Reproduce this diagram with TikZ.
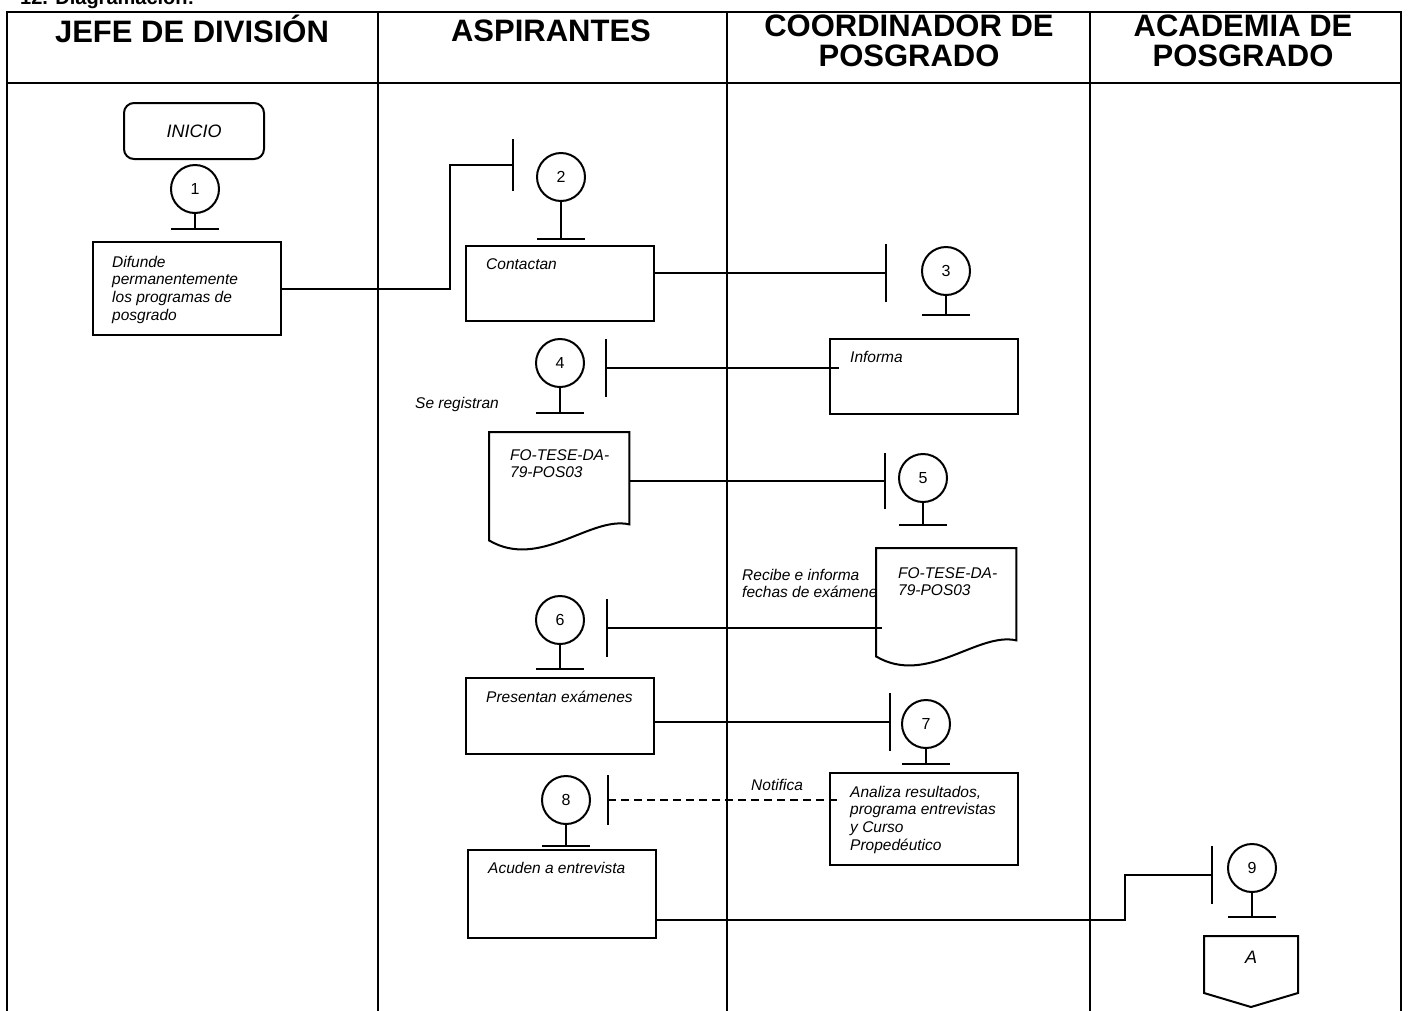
\documentclass[tikz,border=0pt]{standalone}
\usepackage{fontspec}
\setmainfont{Liberation Sans}
\usetikzlibrary{positioning}

\begin{document}
\begin{tikzpicture}[x=1pt, y=-1pt,
		tabla/.style={line width=2.3pt},
		linea/.style={line width=2pt},
		caja/.style={draw, line width=2pt, anchor=north west, inner sep=0pt, minimum width=188pt},
		hoja/.style={anchor=north west, inner sep=0pt, minimum width=140pt, minimum height=92pt},
		paso/.style={draw, circle, line width=2pt, minimum size=48pt, inner sep=0pt, font=\fontsize{16}{18}\selectfont},
		txt/.style={inner sep=0pt, align=left, font=\fontsize{15.5}{17.7}\selectfont\itshape},
		cabeza/.style={inner sep=0pt, anchor=base, font=\fontsize{31}{30}\selectfont\bfseries},
	]
	\newcommand\hojadoc[1]{%
		\draw[linea, fill=white] (#1.north west) -- (#1.north east) -- (#1.south east)
			.. controls +(-39,-9) and +(51,30) .. ([yshift=-16pt]#1.south west) -- cycle;}
	\useasboundingbox (0,0) rectangle (1408,1010);
	% title and lanes
	\node[anchor=base west, inner sep=0pt, font=\fontsize{20}{22}\selectfont\bfseries] (titulo) at (20,4) {12. Diagramación:};
	\draw[tabla] (7,1020) -- (7,12) -- (1401,12) -- (1401,1020);
	\draw[tabla] (7,83) -- (1401,83);
	\foreach \x in {378,727,1090}
		\draw[tabla] (\x,12) -- (\x,1020);
	\node[cabeza] (hjefe) at (192,42) {JEFE DE DIVISIÓN};
	\node[cabeza] (hasp) at (551,41) {ASPIRANTES};
	\node[cabeza] (hcoord) at (909,36.5) {COORDINADOR DE};
	\node[cabeza] (hcoordb) at (909,66.5) {POSGRADO};
	\node[cabeza] (hacad) at (1243,36.5) {ACADEMIA DE};
	\node[cabeza] (hacadb) at (1243,66.5) {POSGRADO};

	% start
	\node[draw, line width=2pt, rounded corners=10pt, minimum width=140pt, minimum height=56pt,
		font=\fontsize{18}{20}\selectfont\itshape] (inicio) at (194,131) {INICIO};

	% activity boxes
	\node[caja, minimum height=93pt] (difunde) at (92,241) {};
	\node[caja, minimum height=75pt] (contactan) at (465,245) {};
	\node[caja, minimum height=75pt] (informa) at (829,338) {};
	\node[caja, minimum height=76pt] (presentan) at (465,677) {};
	\node[caja, minimum height=92pt] (analiza) at (829,772) {};
	\node[caja, minimum height=88pt] (acuden) at (467,849) {};
	\node[hoja] (fo1) at (489,432) {};
	\node[hoja] (fo2) at (876,548) {};

	% box texts
	\node[txt, anchor=north west] (tdifunde) at (112,254.6) {\strut Difunde\\permanentemente\\los programas de\\posgrado};
	\node[txt, anchor=base west] (tcontactan) at (486,269) {Contactan};
	\node[txt, anchor=base west] (tinforma) at (850,362) {Informa};
	\node[txt, anchor=base west] (tregistran) at (415,408) {Se registran};
	\hojadoc{fo1}
	\node[txt, anchor=north west] (tfo1) at (510,447.6) {\strut FO-TESE-DA-\\79-POS03};
	\node[txt, anchor=north west] (trecibe) at (742,567.6) {\strut Recibe e informa\\fechas de exámenes};
	\hojadoc{fo2}
	\node[txt, anchor=north west] (tfo2) at (898,565.6) {\strut FO-TESE-DA-\\79-POS03};
	\node[txt, anchor=base west] (tpresentan) at (486,702) {Presentan exámenes};
	\node[txt, anchor=base west] (tnotifica) at (751,790) {Notifica};
	\node[txt, anchor=north west] (tanaliza) at (850,784.6) {\strut Analiza resultados,\\programa entrevistas\\y Curso\\Propedéutico};
	\node[txt, anchor=base west] (tacuden) at (488,873) {Acuden a entrevista};

	% steps
	\node[paso] (p1) at (195,189) {1};
	\node[paso] (p2) at (561,177) {2};
	\node[paso] (p3) at (946,271) {3};
	\node[paso] (p4) at (560,363) {4};
	\node[paso] (p5) at (923,478) {5};
	\node[paso] (p6) at (560,620) {6};
	\node[paso] (p7) at (926,724) {7};
	\node[paso] (p8) at (566,800) {8};
	\node[paso] (p9) at (1252,868) {9};
	\coordinate[below=15pt of p1] (f1);
	\coordinate[below=37pt of p2] (f2);
	\coordinate[below=19pt of p3] (f3);
	\coordinate[below=25pt of p4] (f4);
	\coordinate[below=22pt of p5] (f5);
	\coordinate[below=24pt of p6] (f6);
	\coordinate[below=15pt of p7] (f7);
	\coordinate[below=21pt of p8] (f8);
	\coordinate[below=24pt of p9] (f9);
	\foreach \i in {1,...,9}
		\draw[linea] (p\i) -- (f\i) ([xshift=-24pt]f\i) -- ([xshift=24pt]f\i);

	% ticks in front of the steps
	\coordinate (k1) at (450,165);
	\coordinate (t2) at (513,165);
	\coordinate (t3) at (886,273);
	\coordinate (t4) at (606,368);
	\coordinate (t5) at (885,481);
	\coordinate (t6) at (607,628);
	\coordinate (t7) at (890,722);
	\coordinate (t8) at (608,800);
	\coordinate (k8) at (1125,920);
	\coordinate (t9) at (1212,875);
	\foreach \t/\h in {t2/26,t3/29,t4/29,t5/28,t6/29,t7/29,t8/25,t9/29}
		\draw[linea] ([yshift=\h pt]\t) -- ([yshift=-\h pt]\t);

	% connectors
	\draw[linea] (difunde.east) -| (k1) -- (t2);
	\draw[linea] (contactan.east |- t3) -- (t3);
	\draw[linea] (t4) -- ([xshift=10pt]informa.west |- t4);
	\draw[linea] (fo1.east |- t5) -- (t5);
	\draw[linea] (t6) -- ([xshift=6pt]fo2.west |- t6);
	\draw[linea] (presentan.east |- t7) -- (t7);
	\draw[linea, dash pattern=on 8pt off 5pt] (t8) -- ([xshift=11pt]analiza.west |- t8);
	\draw[linea] (acuden.east |- k8) -- (k8) |- (t9);

	% off-page connector
	\node[inner sep=0pt, font=\fontsize{18}{20}\selectfont\itshape] (conA) at (1251,957) {A};
	\draw[linea] ([shift={(-47,-21)}]conA.center) -- ([shift={(47,-21)}]conA.center)
		-- ([shift={(47,36)}]conA.center) -- ([shift={(0,50)}]conA.center)
		-- ([shift={(-47,36)}]conA.center) -- cycle;
\end{tikzpicture}
\end{document}
